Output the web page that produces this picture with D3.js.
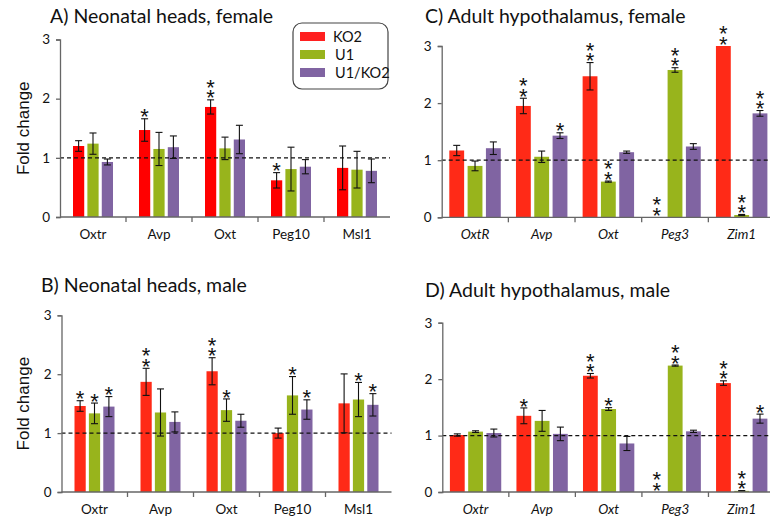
<!DOCTYPE html>
<html>
<head>
<meta charset="utf-8">
<script src="https://cdn.jsdelivr.net/npm/d3@7"></script>
<style>
  body { margin: 0; background: #fff; }
  svg { display: block; }
</style>
</head>
<body>
<script>
// series and categories
var series = ["KO2", "U1", "U1/KO2"];
var genesNeo = ["Oxtr", "Avp", "Oxt", "Peg10", "Msl1"];
var genesAdultF = ["OxtR", "Avp", "Oxt", "Peg3", "Zim1"];
var genesAdultM = ["Oxtr", "Avp", "Oxt", "Peg3", "Zim1"];
var yTicks = [0, 1, 2, 3];

// A) neonatal heads, female  (per gene: KO2, U1, U1/KO2)
var valuesA = [[1.20, 1.24, 0.93], [1.47, 1.15, 1.18], [1.86, 1.16, 1.31], [0.62, 0.81, 0.85], [0.83, 0.80, 0.78]];
var errA = [[0.09, 0.18, 0.05], [0.19, 0.28, 0.19], [0.12, 0.19, 0.24], [0.13, 0.37, 0.12], [0.37, 0.31, 0.20]];
var sigA = [[0, 0, 0], [1, 0, 0], [2, 0, 0], [1, 0, 0], [0, 0, 0]];

// B) neonatal heads, male
var valuesB = [[1.46, 1.335, 1.45], [1.87, 1.35, 1.19], [2.05, 1.39, 1.21], [1.00, 1.64, 1.40], [1.505, 1.57, 1.48]];
var errB = [[0.09, 0.175, 0.17], [0.23, 0.40, 0.17], [0.23, 0.19, 0.11], [0.085, 0.32, 0.165], [0.50, 0.29, 0.19]];
var sigB = [[1, 1, 1], [2, 0, 0], [2, 1, 0], [0, 1, 1], [0, 1, 1]];

// C) adult hypothalamus, female
var valuesC = [[1.17, 0.90, 1.21], [1.95, 1.06, 1.43], [2.47, 0.625, 1.14], [0, 2.58, 1.24], [3.00, 0.04, 1.82]];
var errC = [[0.09, 0.085, 0.11], [0.135, 0.10, 0.05], [0.24, 0.01, 0.02], [0, 0.04, 0.05], [0, 0.01, 0.05]];
var sigC = [[0, 0, 0], [2, 0, 1], [2, 2, 0], [2, 2, 0], [2, 2, 2]];

// D) adult hypothalamus, male
var valuesD = [[1.01, 1.07, 1.045], [1.35, 1.26, 1.03], [2.06, 1.47, 0.86], [0, 2.24, 1.075], [1.93, 0.02, 1.30]];
var errD = [[0.02, 0.015, 0.07], [0.14, 0.185, 0.12], [0.04, 0.025, 0.125], [0, 0.01, 0.02], [0.04, 0.005, 0.08]];
var sigD = [[0, 0, 0], [1, 0, 0], [2, 1, 0], [2, 2, 0], [2, 2, 1]];

window.onload = function () {
    var w = 770, h = 519;
    var svg = d3.select("body").append("svg")
        .attr("width", w)
        .attr("height", h);

    var green = "#98b41c", purple = "#8064a2";

    // panel layout (pixel frames)
    var panels = [
        {title: "A) Neonatal heads, female", tx: 50, ty: 23, genes: genesNeo, vals: valuesA, errs: errA, sigs: sigA,
         x0: 60, x1: 390, y0: 217, y3: 39.5, pad: 13, inner: 0.22, italic: false, ylabel: true, red: "#ff0000"},
        {title: "B) Neonatal heads, male", tx: 41, ty: 292, genes: genesNeo, vals: valuesB, errs: errB, sigs: sigB,
         x0: 61.5, x1: 391.5, y0: 492, y3: 315.3, pad: 13, inner: 0.22, italic: false, ylabel: true, red: "#ff2a17"},
        {title: "C) Adult hypothalamus, female", tx: 425, ty: 23, genes: genesAdultF, vals: valuesC, errs: errC, sigs: sigC,
         x0: 441.7, x1: 775, y0: 217.3, y3: 46, pad: 7.6, inner: 0.19, italic: true, ylabel: false, red: "#ff2a17"},
        {title: "D) Adult hypothalamus, male", tx: 425, ty: 297, genes: genesAdultM, vals: valuesD, errs: errD, sigs: sigD,
         x0: 442.3, x1: 775, y0: 492, y3: 322.7, pad: 7.6, inner: 0.19, italic: true, ylabel: false, red: "#ff2a17"}
    ];

    panels.forEach(function (p) {
        var g = svg.append("g");
        var colors = [p.red, green, purple];

        var x = d3.scaleBand().domain(p.genes).range([p.x0, p.x1]).padding(0);
        var xs = d3.scaleBand().domain(d3.range(series.length))
            .range([p.pad, x.bandwidth() - p.pad])
            .paddingInner(p.inner).paddingOuter(0);
        var y = d3.scaleLinear().domain([0, 3]).range([p.y0, p.y3]);

        // title
        g.append("text")
            .attr("x", p.tx)
            .attr("y", p.ty)
            .attr("font-family", "Lato, 'Open Sans', sans-serif")
            .attr("font-size", 19.5)
            .attr("fill", "#111")
            .text(p.title);

        // bars, one row per gene
        var rows = p.genes.map(function (gene, i) {
            return series.map(function (s, j) {
                return {gene: gene, j: j, v: p.vals[i][j], e: p.errs[i][j], sig: p.sigs[i][j]};
            });
        });
        var groups = g.selectAll(".grp")
            .data(rows)
            .enter()
            .append("g")
            .attr("class", "grp")
            .attr("transform", function (d, i) { return "translate(" + x(p.genes[i]) + ",0)"; });

        groups.selectAll("rect")
            .data(function (d) { return d; })
            .enter()
            .append("rect")
            .attr("x", function (d) { return xs(d.j); })
            .attr("width", xs.bandwidth())
            .attr("y", function (d) { return y(d.v); })
            .attr("height", function (d) { return y(0) - y(d.v); })
            .attr("fill", function (d) { return colors[d.j]; });

        // dashed reference line at 1
        g.append("line")
            .attr("x1", p.x0).attr("x2", p.x1)
            .attr("y1", y(1)).attr("y2", y(1))
            .attr("stroke", "#111")
            .attr("stroke-width", 1.3)
            .attr("stroke-dasharray", "4,3");

        // error bars
        var eb = groups.selectAll(".eb")
            .data(function (d) { return d.filter(function (e) { return e.e > 0; }); })
            .enter()
            .append("g")
            .attr("class", "eb")
            .attr("stroke", "#111")
            .attr("stroke-width", 1.1);
        eb.append("line")
            .attr("x1", function (d) { return xs(d.j) + xs.bandwidth() / 2; })
            .attr("x2", function (d) { return xs(d.j) + xs.bandwidth() / 2; })
            .attr("y1", function (d) { return y(d.v + d.e); })
            .attr("y2", function (d) { return y(d.v - d.e); });
        [1, -1].forEach(function (sgn) {
            eb.append("line")
                .attr("x1", function (d) { return xs(d.j) + xs.bandwidth() / 2 - 3.5; })
                .attr("x2", function (d) { return xs(d.j) + xs.bandwidth() / 2 + 3.5; })
                .attr("y1", function (d) { return y(d.v + sgn * d.e); })
                .attr("y2", function (d) { return y(d.v + sgn * d.e); });
        });

        // significance asterisks, stacked vertically in one text
        var stars = groups.selectAll(".sig")
            .data(function (d) { return d.filter(function (e) { return e.sig > 0; }); })
            .enter()
            .append("text")
            .attr("class", "sig")
            .attr("text-anchor", "middle")
            .attr("font-family", "'Liberation Sans', Arial, sans-serif")
            .attr("font-size", 22)
            .attr("fill", "#111");
        stars.each(function (d) {
            var t = d3.select(this);
            var cx = xs(d.j) + xs.bandwidth() / 2;
            var base = y(d.v + d.e) - 7 + 12.6;
            for (var k = d.sig - 1; k >= 0; k--) {
                t.append("tspan")
                    .attr("x", cx)
                    .attr("y", base - k * 10.5)
                    .text("*");
            }
        });

        // axes
        var yAxis = d3.axisLeft(y).tickValues(yTicks).tickFormat(d3.format("d")).tickSize(4).tickPadding(6);
        var ya = g.append("g")
            .attr("transform", "translate(" + p.x0 + ",0)")
            .call(yAxis);
        ya.selectAll("text")
            .attr("font-family", "Lato, 'Open Sans', sans-serif")
            .attr("font-size", 13.5)
            .attr("fill", "#111");

        var xa = g.append("g").attr("transform", "translate(0," + p.y0 + ")");
        xa.append("line")
            .attr("x1", p.x0).attr("x2", p.x1)
            .attr("y1", 0).attr("y2", 0);
        xa.selectAll(".tk")
            .data(p.genes.slice(1))
            .enter()
            .append("line")
            .attr("class", "tk")
            .attr("x1", function (d) { return x(d); })
            .attr("x2", function (d) { return x(d); })
            .attr("y1", 0).attr("y2", 5);
        xa.selectAll(".lbl")
            .data(p.genes)
            .enter()
            .append("text")
            .attr("class", "lbl")
            .attr("x", function (d) { return x(d) + x.bandwidth() / 2; })
            .attr("y", 22)
            .attr("text-anchor", "middle")
            .attr("font-family", "Lato, 'Open Sans', sans-serif")
            .attr("font-size", 13.5)
            .attr("font-style", p.italic ? "italic" : "normal")
            .attr("fill", "#111")
            .text(function (d) { return d; });

        [ya, xa].forEach(function (a) {
            a.selectAll("line, path").attr("stroke", "#666").attr("stroke-width", 1.3);
            a.select(".domain").attr("stroke", "#666");
        });

        if (p.ylabel) {
            g.append("text")
                .attr("transform", "translate(29," + ((p.y0 + p.y3) / 2) + ") rotate(-90)")
                .attr("text-anchor", "middle")
                .attr("font-family", "'Liberation Sans', Arial, sans-serif")
                .attr("font-size", 17)
                .attr("fill", "#111")
                .text("Fold change");
        }
    });

    // legend (panel A)
    var lg = svg.append("g").attr("transform", "translate(293,23)");
    lg.append("rect")
        .attr("width", 95).attr("height", 66)
        .attr("rx", 9)
        .attr("fill", "#fff")
        .attr("stroke", "#444")
        .attr("stroke-width", 1.2);
    var legColors = ["#ff2020", green, purple];
    var items = lg.selectAll(".li")
        .data(series)
        .enter()
        .append("g")
        .attr("class", "li")
        .attr("transform", function (d, i) { return "translate(0," + (9 + i * 18) + ")"; });
    items.append("rect")
        .attr("x", 7).attr("width", 25).attr("height", 9)
        .attr("fill", function (d, i) { return legColors[i]; });
    items.append("text")
        .attr("x", function (d, i) { return i === 0 ? 40 : 42; })
        .attr("y", 10)
        .attr("font-family", "Lato, 'Open Sans', sans-serif")
        .attr("font-size", 14.5)
        .attr("fill", "#111")
        .text(function (d) { return d; });
};
</script>
</body>
</html>
